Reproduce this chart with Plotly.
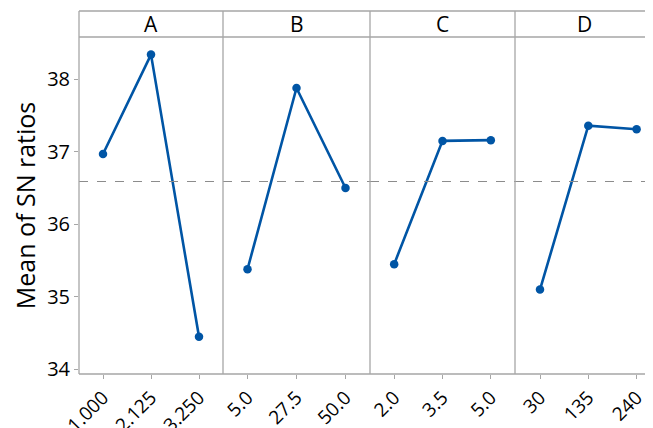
import plotly.graph_objects as go

factors = ["A", "B", "C", "D"]
levels = {
    "A": ["1.000", "2.125", "3.250"],
    "B": ["5.0", "27.5", "50.0"],
    "C": ["2.0", "3.5", "5.0"],
    "D": ["30", "135", "240"],
}
sn_means = {
    "A": [36.97, 38.34, 34.45],
    "B": [35.38, 37.88, 36.50],
    "C": [35.45, 37.15, 37.16],
    "D": [35.10, 37.36, 37.31],
}
overall_mean = 36.59
y_ticks = [34, 35, 36, 37, 38]

# page has an 8px body margin, so the figure is sized/offset to compensate
OFF = 8
W, H = 653 - OFF, 428 - OFF
ml, mr = 79 - OFF, 0
mt = 11 - OFF
mb = H - (374 - OFF)
pw = W - ml - mr
ph = H - mt - mb
bounds_px = [79, 223, 370, 515, 653]
dom = [(b - 79) / pw for b in bounds_px]
ytop = (374 - 37) / ph  # top of data region in paper coords

LINE = "#0055A5"
FRAME = "#A6A6A6"
FONT = "Open Sans"

fig = go.Figure()
layout = dict(
    width=W, height=H,
    margin=dict(l=ml, r=mr, t=mt, b=mb, autoexpand=False),
    paper_bgcolor="white", plot_bgcolor="white",
    showlegend=False,
    font=dict(family=FONT, color="black"),
    yaxis=dict(
        domain=[0, ytop], range=[33.935, 38.583],
        tickvals=y_ticks, ticktext=[str(v) for v in y_ticks],
        ticks="outside", ticklen=4, tickcolor=FRAME,
        showgrid=False, zeroline=False, showline=False,
        tickfont=dict(size=20, family=FONT),
        title=dict(text="Mean of SN ratios", font=dict(size=25, family=FONT), standoff=10),
        anchor="x", automargin=False,
    ),
)

shapes = []
annotations = []
for i, f in enumerate(factors):
    ax = "x" if i == 0 else f"x{i+1}"
    axkey = "xaxis" if i == 0 else f"xaxis{i+1}"
    fig.add_trace(go.Scatter(
        x=list(range(len(levels[f]))), y=sn_means[f],
        xaxis=ax, yaxis="y",
        mode="lines+markers",
        line=dict(color=LINE, width=2.6),
        marker=dict(color=LINE, size=8.5),
    ))
    width_px = bounds_px[i + 1] - bounds_px[i]
    if i < 3:
        rng = [-0.5, 2.5]
    else:
        unit = 48.3
        left = -25 / unit
        rng = [left, left + width_px / unit]
    layout[axkey] = dict(
        domain=[dom[i], dom[i + 1]], range=rng, anchor="y",
        tickvals=list(range(len(levels[f]))), ticktext=levels[f],
        tickangle=-45, ticks="outside", ticklen=4, tickcolor=FRAME,
        showgrid=False, zeroline=False, showline=False,
        tickfont=dict(size=19, family=FONT), automargin=False,
    )
    # dashed mean line
    shapes.append(dict(type="line", xref=f"{ax} domain", yref="y",
                       x0=0, x1=1, y0=overall_mean, y1=overall_mean,
                       line=dict(color="#8C8C8C", width=1, dash="dash")))
    # strip label
    annotations.append(dict(text=f, xref="paper", yref="paper",
                            x=(dom[i] + dom[i + 1]) / 2, y=(ytop + 1) / 2,
                            showarrow=False, xanchor="center", yanchor="middle",
                            font=dict(size=21, family=FONT, color="black")))
    if i > 0:
        shapes.append(dict(type="line", xref="paper", yref="paper",
                           x0=dom[i], x1=dom[i], y0=0, y1=1,
                           line=dict(color=FRAME, width=1.3)))

# outer frame and strip separator
shapes.append(dict(type="line", xref="paper", yref="paper", x0=0, x1=0, y0=0, y1=1,
                   line=dict(color=FRAME, width=1.3)))
shapes.append(dict(type="line", xref="paper", yref="paper", x0=0, x1=1, y0=0, y1=0,
                   line=dict(color=FRAME, width=1.3)))
shapes.append(dict(type="line", xref="paper", yref="paper", x0=0, x1=1, y0=1, y1=1,
                   line=dict(color=FRAME, width=1.3)))
shapes.append(dict(type="line", xref="paper", yref="paper", x0=0, x1=1, y0=ytop, y1=ytop,
                   line=dict(color=FRAME, width=1.3)))

layout["shapes"] = shapes
layout["annotations"] = annotations
fig.update_layout(**layout)
fig.write_html("out.html")
